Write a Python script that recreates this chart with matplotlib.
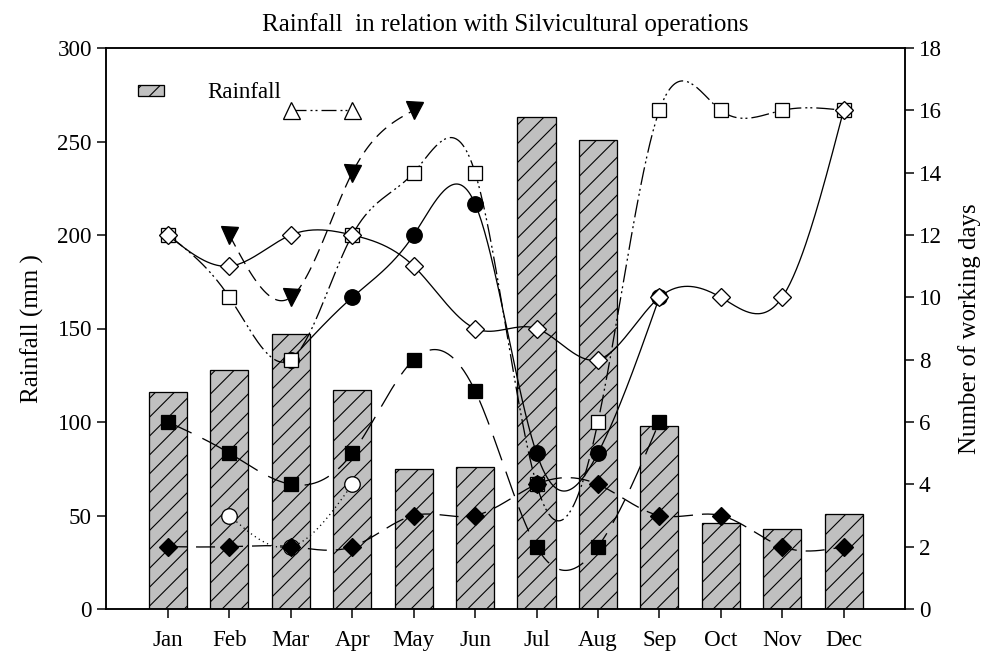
import numpy as np
import matplotlib.pyplot as plt

nan = np.nan

# ---- data ----
months = ['Jan', 'Feb', 'Mar', 'Apr', 'May', 'Jun', 'Jul', 'Aug', 'Sep', 'Oct', 'Nov', 'Dec']
rainfall = [116, 128, 147, 117, 75, 76, 263, 251, 98, 46, 43, 51]

# working days per operation (right axis)
open_diamond_days = [12, 11, 12, 12, 11, 9, 9, 8, 10, 10, 10, 16]
open_square_days = [12, 10, 8, 12, 14, 14, 4, 6, 16, 16, 16, 16]
filled_circle_days = [nan, nan, 8, 10, 12, 13, 5, 5, 10, nan, nan, nan]
filled_tri_days = [nan, 12, 10, 14, 16, nan, nan, nan, nan, nan, nan, nan]
open_tri_days = [nan, nan, 16, 16, nan, nan, nan, nan, nan, nan, nan, nan]
filled_square_days = [6, 5, 4, 5, 8, 7, 2, 2, 6, nan, nan, nan]
filled_diamond_days = [2, 2, 2, 2, 3, 3, 4, 4, 3, 3, 2, 2]
open_circle_days = [nan, 3, 2, 4, nan, nan, nan, nan, nan, nan, nan, nan]
jul_circle_days = [nan, nan, nan, nan, nan, nan, 4, nan, nan, nan, nan, nan]

DPI = 170


def px(p):
    # pixel size -> points at this dpi
    return p * 72.0 / DPI


plt.rcParams['font.family'] = ['Liberation Serif', 'DejaVu Serif']
plt.rcParams['lines.scale_dashes'] = False
plt.rcParams['hatch.linewidth'] = px(1.1)


def natural_spline(x, y, n=40):
    # smooth curve through the points, like the sigmaplot spline
    x = np.asarray(x, float)
    y = np.asarray(y, float)
    k = len(x)
    if k < 3:
        return x, y
    h = np.diff(x)
    A = np.zeros((k, k))
    b = np.zeros(k)
    A[0, 0] = A[-1, -1] = 1
    for i in range(1, k - 1):
        A[i, i - 1] = h[i - 1]
        A[i, i] = 2 * (h[i - 1] + h[i])
        A[i, i + 1] = h[i]
        b[i] = 6 * ((y[i + 1] - y[i]) / h[i] - (y[i] - y[i - 1]) / h[i - 1])
    M = np.linalg.solve(A, b)
    xs, ys = [], []
    for i in range(k - 1):
        t = np.linspace(x[i], x[i + 1], n)
        a = x[i + 1] - t
        c = t - x[i]
        s = (M[i] * a ** 3 + M[i + 1] * c ** 3) / (6 * h[i]) \
            + (y[i] / h[i] - M[i] * h[i] / 6) * a \
            + (y[i + 1] / h[i] - M[i + 1] * h[i] / 6) * c
        xs.append(t)
        ys.append(s)
    return np.concatenate(xs), np.concatenate(ys)


def dash(*p):
    return (0, tuple(px(v) for v in p))


fig = plt.figure(figsize=(983 / DPI, 655 / DPI), dpi=DPI)
ax = fig.add_axes([106 / 983, 1 - 609 / 655, (905 - 106) / 983, (609 - 48) / 655])
x = np.arange(len(months))

bars = ax.bar(x, rainfall, width=0.62, color='#c0c0c0', edgecolor='black',
              linewidth=px(1.3), hatch='///', label='Rainfall', zorder=2)
ax.set_xlim(-1.01, 12.0)
ax.set_ylim(0, 300)
ax.set_yticks(range(0, 301, 50))
ax.set_xticks(x)
ax.set_xticklabels(months)
ax.set_ylabel('Rainfall (mm )', fontsize=px(25), labelpad=px(14))
ax.set_title('Rainfall  in relation with Silvicultural operations', fontsize=px(25), pad=px(17))

ax2 = ax.twinx()
ax2.set_ylim(0, 18)
ax2.set_yticks(range(0, 19, 2))
ax2.set_ylabel('Number of working days', fontsize=px(25), labelpad=px(16))

for a in (ax, ax2):
    a.tick_params(direction='out', length=px(9), width=px(1.5), labelsize=px(23), pad=px(5))
    for sp in a.spines.values():
        sp.set_linewidth(px(1.5))
ax.tick_params(axis='x', pad=px(12))

series = [
    (open_circle_days, 'o', 'white', dash(1.2, 3.5), 15.5),
    (filled_tri_days, 'v', 'black', dash(13, 7), 17),
    (open_tri_days, '^', 'white', dash(15, 4, 2, 3, 2, 4), 17),
    (filled_square_days, 's', 'black', dash(26, 12), 14.5),
    (filled_circle_days, 'o', 'black', '-', 15.5),
    (open_square_days, 's', 'white', dash(18, 4, 2, 3, 2, 4), 14.5),
    (jul_circle_days, 'o', 'black', '-', 15.5),
    (open_diamond_days, 'D', 'white', '-', 13),
    (filled_diamond_days, 'D', 'black', dash(19, 9), 13),
]

z = 3
for vals, mk, fc, ls, ms in series:
    v = np.array(vals, float)
    ok = ~np.isnan(v)
    sx, sy = natural_spline(x[ok], v[ok])
    ax2.plot(sx, sy, color='black', linestyle=ls, linewidth=px(1.3), zorder=z)
    ax2.plot(x[ok], v[ok], linestyle='none', marker=mk, markersize=px(ms),
             markerfacecolor=fc, markeredgecolor='black', markeredgewidth=px(1.3), zorder=z + 1)
    z += 2

leg = ax.legend(handles=[bars], loc='upper left', bbox_to_anchor=(0.029, 0.955),
                frameon=False, fontsize=px(23), handlelength=1.1, handleheight=0.35,
                handletextpad=1.9, borderaxespad=0)

fig.savefig('out.png', dpi=DPI)
